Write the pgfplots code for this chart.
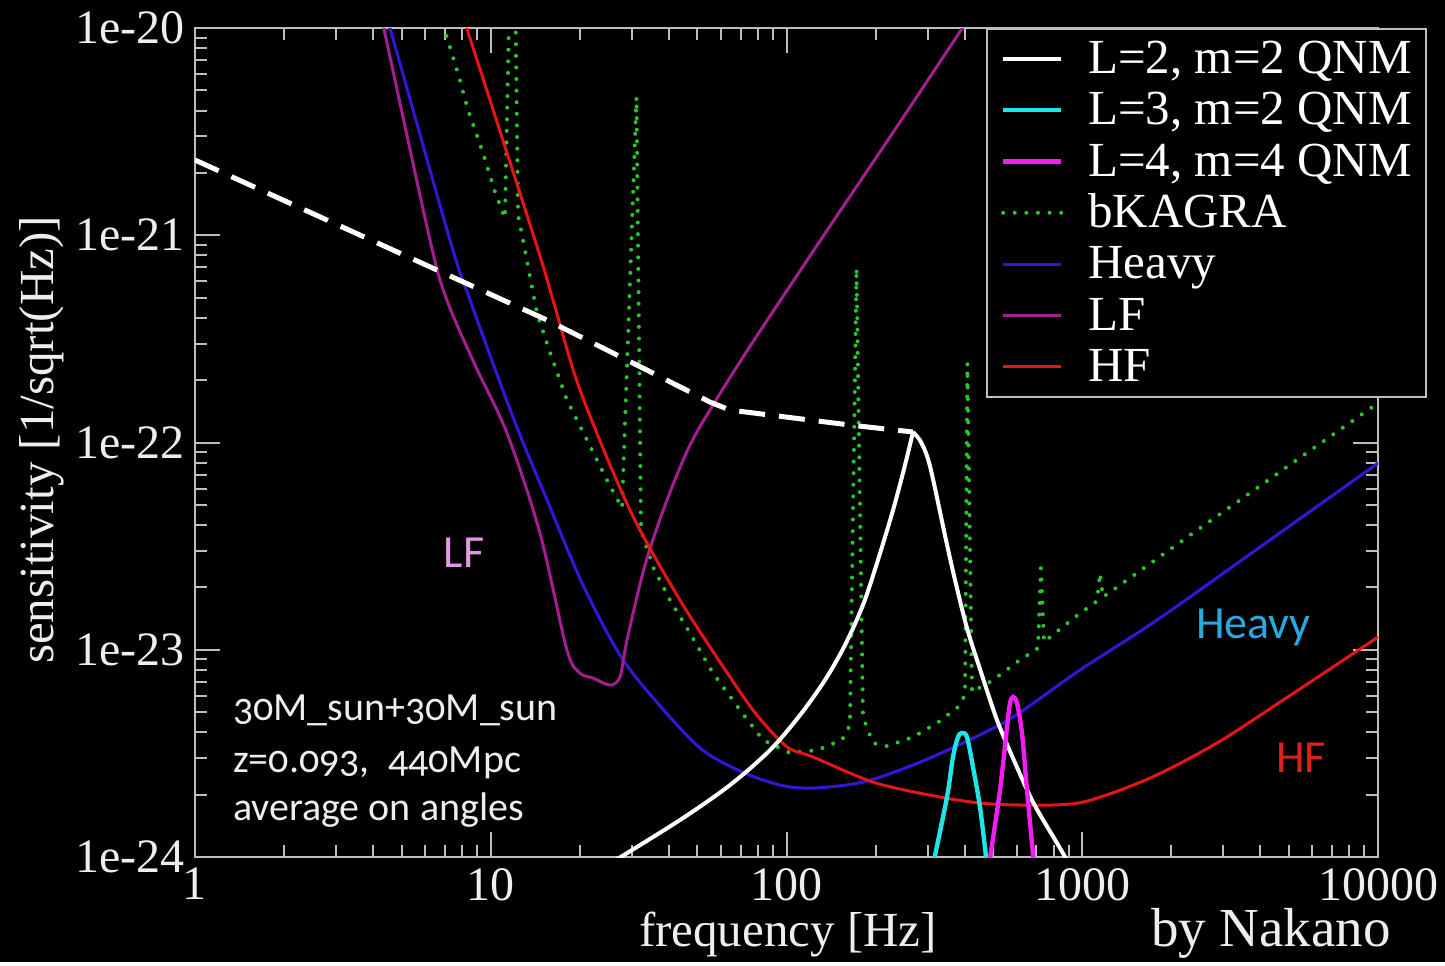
\documentclass[border=0pt]{standalone}
\usepackage{fontspec}
\setmainfont{Liberation Serif}
\newfontfamily\annfont[Numbers=OldStyle]{Carlito}
\newfontfamily\labfont{Carlito}
\usepackage{pgfplots}
\pgfplotsset{compat=1.18}
\definecolor{axgrey}{RGB}{190,190,190}
\definecolor{txtwhite}{RGB}{238,238,238}
\definecolor{qcyan}{RGB}{30,230,230}
\definecolor{qmag}{RGB}{240,30,240}
\definecolor{kgreen}{RGB}{40,200,40}
\definecolor{hblue}{RGB}{55,20,215}
\definecolor{lfpurple}{RGB}{165,30,145}
\definecolor{hfred}{RGB}{230,20,20}
\definecolor{lflab}{RGB}{230,150,230}
\definecolor{heavylab}{RGB}{40,170,225}
\definecolor{hflab}{RGB}{225,30,30}
\tikzset{
 stQa/.style={white, line width=2pt},
 stQb/.style={qcyan, line width=2.2pt},
 stQc/.style={qmag, line width=2.2pt},
 stK/.style={kgreen, line width=2pt, line cap=round, dash pattern=on 0pt off 5.8pt},
 stH/.style={hblue, line width=1.5pt},
 stL/.style={lfpurple, line width=1.5pt},
 stF/.style={hfred, line width=1.5pt},
 stD/.style={white, line width=2.5pt, dash pattern=on 13pt off 7pt},
}
\begin{document}
\begin{tikzpicture}
\fill[black] (-97.5pt,-52.5pt) rectangle (625pt,428.5pt);
\begin{axis}[
  at={(0pt,0pt)}, anchor=south west,
  scale only axis, width=591.5pt, height=414.5pt,
  xmode=log, ymode=log,
  xmin=1, xmax=10000, ymin=1e-24, ymax=1e-20,
  axis line style={axgrey, line width=1pt},
  tick style={axgrey, line width=1pt},
  major tick length=12.5pt, minor tick length=6pt,
  tick align=inside,
  xtick={1,10,100,1000,10000},
  xticklabels={1,10,100,1000,10000},
  ytick={1e-24,1e-23,1e-22,1e-21,1e-20},
  yticklabels={1e-24,1e-23,1e-22,1e-21,1e-20},
  minor xtick={2,3,4,5,6,7,8,9,20,30,40,50,60,70,80,90,200,300,400,500,600,700,800,900,2000,3000,4000,5000,6000,7000,8000,9000},
  minor ytick={2e-24,3e-24,4e-24,5e-24,6e-24,7e-24,8e-24,9e-24,2e-23,3e-23,4e-23,5e-23,6e-23,7e-23,8e-23,9e-23,2e-22,3e-22,4e-22,5e-22,6e-22,7e-22,8e-22,9e-22,2e-21,3e-21,4e-21,5e-21,6e-21,7e-21,8e-21,9e-21},
  tick label style={font=\fontsize{24}{28}\selectfont, text=txtwhite},
  xticklabel style={yshift=-2pt},
  yticklabel style={inner xsep=0pt, xshift=-5pt},
  legend style={at={(0.6686,1)}, anchor=north west, draw=axgrey, line width=1pt, fill=black, text=white,
     font=\fontsize{24.5}{26}\selectfont, inner xsep=7pt, inner ysep=2.1pt, row sep=0pt, column sep=12.5pt,
     nodes={inner sep=0pt, text height=20.15pt, text depth=5.5pt}},
  legend cell align=left,
  legend image code/.code={\draw[#1] (0pt,0pt) -- (29pt,0pt);},
]
% bKAGRA
\addplot[stK, forget plot] coordinates {
(6.90,1.034e-20) (7.69,6.27e-21) (8.38,4.02e-21) (9.34,2.58e-21) (10.34,1.617e-21) (11.17,1.211e-21)
(11.9,1e-19)
(12.37,1.252e-21) (12.76,1.003e-21) (14.33,4.21e-22) (15.86,2.73e-22) (18.10,1.603e-22) (21.16,1.028e-22)
(24.73,6.59e-23) (27.79,4.83e-23)
(31.1,4.65e-21)
(32.22,3.78e-23) (35.37,2.51e-23) (40.37,1.738e-23) (47.18,1.204e-23) (56.42,7.72e-24) (69.64,5.12e-24)
(83.27,3.67e-24) (102.8,3.18e-24) (126.8,3.28e-24) (154.0,3.67e-24) (163.9,4.33e-24)
(172.5,6.95e-22)
(181.4,4.74e-24) (196.1,3.55e-24) (218.7,3.43e-24) (267.7,3.79e-24) (322.8,4.43e-24) (380.1,5.29e-24) (401.4,6.05e-24)
(409,2.418e-22)
(423.9,6.25e-24) (499.1,7.14e-24) (601.8,8.73e-24) (708.7,1.019e-23)
(725,2.48e-23)
(742.5,1.09e-23) (945.2,1.439e-23) (1122,1.719e-23)
(1148,2.346e-23)
(1175,1.797e-23) (1531,2.346e-23) (2369,3.66e-23) (3692,5.71e-23) (5798,9.00e-23) (10000,1.551e-22)
};
% Heavy
\addplot[stH, smooth, forget plot] coordinates {
(4.39,1.22e-20) (7.28,9.49e-22) (8.51,4.87e-22) (11.89,1.327e-22) (15.50,5.28e-23) (20.51,2.053e-23)
(27.35,9.43e-24) (35.93,5.72e-24) (50.99,3.36e-24) (69.64,2.60e-24) (95.1,2.225e-24) (122.9,2.152e-24)
(181.4,2.30e-24) (267.7,2.78e-24) (395.2,3.55e-24) (583.3,4.74e-24) (982.6,7.99e-24) (1789,1.391e-23)
(3990,3.13e-23) (10000,7.96e-23)
};
% LF
\addplot[stL, smooth, forget plot] coordinates {
(4.22,1.22e-20) (6.23,9.49e-22) (7.11,4.87e-22) (8.85,2.365e-22) (11.35,1.111e-22) (14.67,3.66e-23)
(18.10,9.97e-24) (20.04,7.72e-24) (22.17,7.31e-24) (25.31,6.76e-24) (27.35,7.39e-24) (28.89,1.114e-23)
(33.24,2.564e-23) (39.45,5.28e-23) (47.18,9.72e-23) (56.42,1.517e-22) (72.38,2.673e-22) (93.6,4.66e-22)
(140.3,1.108e-21) (242.0,3.52e-21) (417.3,1.136e-20)
};
% HF
\addplot[stF, smooth, forget plot] coordinates {
(7.93,1.22e-20) (14.11,9.49e-22) (16.24,4.87e-22) (20.04,1.792e-22) (29.57,4.72e-23) (43.64,1.738e-23)
(64.41,7.39e-24) (79.5,4.84e-24) (100.4,3.40e-24) (122.9,3.04e-24) (196.1,2.30e-24) (305.6,1.99e-24)
(451.1,1.822e-24) (665.9,1.782e-24) (1006,1.842e-24) (1695,2.405e-24) (2855,3.55e-24) (4773,5.72e-24)
(10000,1.152e-23)
};
% L=2 inspiral (dashed)
\addplot[stD, forget plot] coordinates {
(1,2.307e-21) (15.50,3.90e-22) (31.22,2.365e-22) (55.13,1.568e-22) (64.41,1.435e-22) (163.9,1.215e-22) (267.7,1.124e-22)
};
% L=2 QNM rising
\addplot[stQa, smooth, forget plot] coordinates {
(24.53,9.05e-25) (43.64,1.509e-24) (64.41,2.225e-24) (87.95,3.28e-24) (111.1,4.84e-24) (134.9,7.14e-24)
(157.7,1.054e-23) (181.4,1.644e-23) (202.3,2.62e-23) (229.2,4.72e-23) (251.6,7.78e-23) (267.7,1.124e-22)
};
% L=2 QNM falling
\addplot[stQa, smooth, forget plot] coordinates {
(267.7,1.124e-22) (284.9,1.006e-22) (305.6,7.70e-23) (346.1,3.39e-23) (371.4,2.171e-23) (407.6,1.273e-23)
(451.1,8.07e-24) (514.9,4.58e-24) (583.3,3.00e-24) (681.7,1.842e-24) (821.5,1.168e-24) (895,9.46e-25)
};
% L=3 QNM
\addplot[stQb, smooth, forget plot] coordinates {
(312.9,9.15e-25) (348.9,1.948e-24) (365.6,3.04e-24) (380.1,3.79e-24) (392.1,3.97e-24) (407.6,3.79e-24)
(427.1,2.72e-24) (451.1,1.742e-24) (476.4,9.15e-25)
};
% L=4 QNM
\addplot[stQc, smooth, forget plot] coordinates {
(483.9,9.15e-25) (527.1,2.105e-24) (556.8,4.24e-24) (569.9,5.53e-24) (583.3,5.92e-24) (601.8,5.53e-24)
(625.6,3.97e-24) (650.4,2.105e-24) (686.9,9.15e-25)
};
\addlegendimage{stQa}\addlegendentry{L=2, m=2 QNM}
\addlegendimage{stQb}\addlegendentry{L=3, m=2 QNM}
\addlegendimage{stQc}\addlegendentry{L=4, m=4 QNM}
\addlegendimage{stK}\addlegendentry{bKAGRA}
\addlegendimage{stH}\addlegendentry{Heavy}
\addlegendimage{stL}\addlegendentry{LF}
\addlegendimage{stF}\addlegendentry{HF}
\node[anchor=base west, font=\annfont\fontsize{20}{24}\selectfont, text=txtwhite] at (rel axis cs:0.0262,0.1653) {30M\_sun+30M\_sun};
\node[anchor=base west, font=\annfont\fontsize{20}{24}\selectfont, text=txtwhite] at (rel axis cs:0.0262,0.1025) {z=0.093,~ 440Mpc};
\node[anchor=base west, font=\annfont\fontsize{20}{24}\selectfont, text=txtwhite] at (rel axis cs:0.0262,0.0446) {average on angles};
\node[anchor=base west, font=\labfont\fontsize{23}{26}\selectfont, text=lflab] at (rel axis cs:0.2045,0.3498) {LF};
\node[anchor=base west, font=\labfont\fontsize{23}{26}\selectfont, text=heavylab] at (rel axis cs:0.8402,0.2642) {Heavy};
\node[anchor=base west, font=\labfont\fontsize{23}{26}\selectfont, text=hflab] at (rel axis cs:0.9078,0.1025) {HF};
\end{axis}
\node[anchor=base, text=txtwhite, font=\fontsize{24.5}{28}\selectfont] at (296.5pt,-45pt) {frequency [Hz]};
\node[anchor=base, text=txtwhite, font=\fontsize{27.5}{30}\selectfont] at (538pt,-45pt) {by Nakano};
\node[anchor=base, rotate=90, text=txtwhite, font=\fontsize{24.5}{28}\selectfont] at (-70.5pt,208.5pt) {sensitivity [1/sqrt(Hz)]};
\end{tikzpicture}
\end{document}
